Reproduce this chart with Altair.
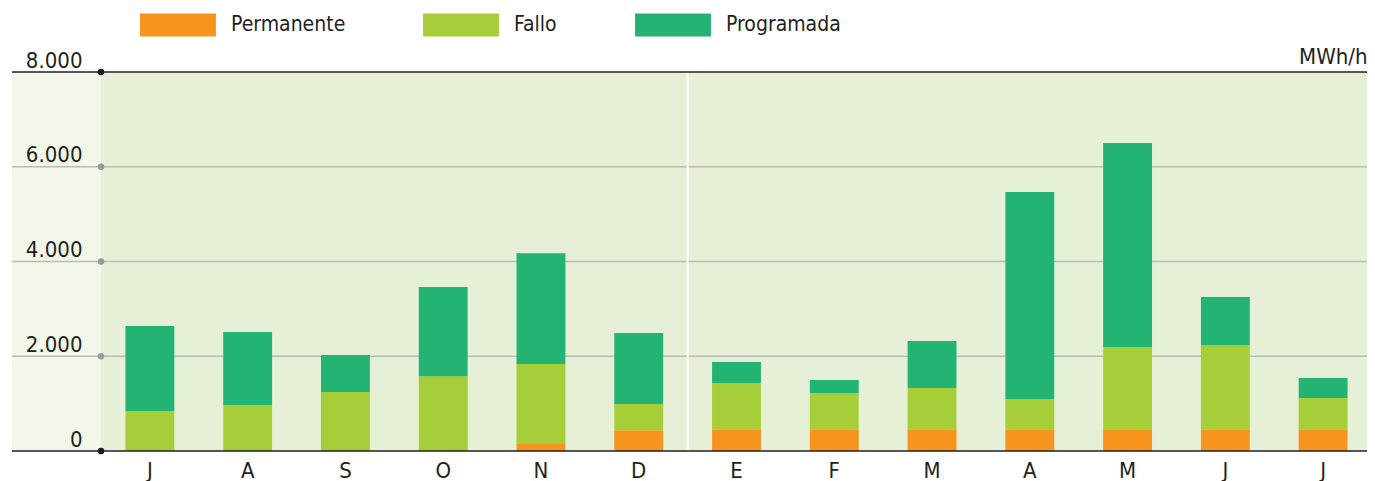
import altair as alt
import pandas as pd

# ---- data ----
keys = ["Jul-13", "Ago-13", "Sep-13", "Oct-13", "Nov-13", "Dic-13",
        "Ene-14", "Feb-14", "Mar-14", "Abr-14", "May-14", "Jun-14", "Jul-14"]
series = ["Permanente", "Fallo", "Programada"]
permanente = [0, 0, 0, 0, 150, 440, 460, 460, 460, 460, 460, 460, 460]
fallo = [845, 970, 1245, 1580, 1685, 550, 975, 765, 870, 640, 1735, 1775, 660]
programada = [1795, 1540, 780, 1880, 2340, 1500, 445, 275, 990, 4365, 4305, 1015, 420]
colors = ["#f7941d", "#a6ce39", "#23b473"]
y_ticks = [0, 2000, 4000, 6000, 8000]
grid_values = [2000, 4000, 6000]
frame_values = [0, 8000]
year_start = ["Ene-14"]

rows = []
for i, k in enumerate(keys):
    for j, (s, vals) in enumerate(zip(series, [permanente, fallo, programada])):
        rows.append({"mes": k, "serie": s, "orden": j, "valor": vals[i]})
df = pd.DataFrame(rows)

FONT = "Liberation Sans Narrow, Arial Narrow, DejaVu Sans Condensed, sans-serif"
TXT = "#231f20"
W, H = 1266, 379          # plot area (page is 1375 wide incl. 8px margins)
XR = 1271                 # band range so bars sit where the reference has them
LEFT = 89
STEP = XR / 13.0

xscale = alt.Scale(domain=keys, range=[0, XR], paddingInner=0.5, paddingOuter=0.25)
yscale = alt.Scale(domain=[0, 8000], nice=False)

XAX = alt.Axis(labelExpr="substring(datum.label, 0, 1)", labelAngle=0,
               ticks=False, domain=False, grid=False, labelPadding=9,
               labelFontSize=22, labelFont=FONT, labelColor=TXT)
YAX = alt.Axis(values=y_ticks, grid=False, ticks=False, domain=False, zindex=2,
               labelExpr="replace(format(datum.value, ','), ',', '.')",
               labelAlign="right", labelBaseline="alphabetic",
               labelPadding=19, labelOffset=-5, labelFontSize=22,
               labelFont=FONT, labelColor=TXT, labelFlush=False,
               labelOverlap=False,
               titleAngle=0, titleX=W, titleY=-9, titleAlign="right",
               titleBaseline="alphabetic", titleFontSize=22,
               titleFont=FONT, titleFontWeight="normal", titleColor=TXT)
YT = "MWh/h"

band = alt.Chart(pd.DataFrame({"a": [0]})).mark_rect(color="#f2f7e9").encode(
    x=alt.value(-LEFT), x2=alt.value(0),
    y=alt.Y(datum=8000, type="quantitative", scale=yscale, axis=YAX, title=YT),
    y2=alt.Y2(datum=0),
)

grid = alt.Chart(pd.DataFrame({"v": grid_values})).mark_rule(
    color="#b9bcb3", strokeWidth=1.6
).encode(
    y=alt.Y("v:Q", scale=yscale, axis=YAX, title=YT),
    x=alt.value(-LEFT), x2=alt.value(W),
)

sep = alt.Chart(pd.DataFrame({"mes": year_start})).mark_rule(
    color="white", strokeWidth=2
).encode(
    x=alt.X("mes:N", scale=xscale, bandPosition=0, axis=XAX, title=None),
    xOffset=alt.value(-STEP * 0.25),
    y=alt.Y(datum=8000, type="quantitative", scale=yscale, axis=YAX, title=YT),
    y2=alt.Y2(datum=0),
)

bars = alt.Chart(df).mark_bar().encode(
    x=alt.X("mes:N", scale=xscale, title=None, axis=XAX),
    y=alt.Y("valor:Q", stack="zero", scale=yscale, title=YT, axis=YAX),
    color=alt.Color("serie:N", scale=alt.Scale(domain=series, range=colors),
                    legend=alt.Legend(title=None, orient="none", legendX=65.5,
                                      legendY=-58.5, direction="horizontal",
                                      symbolType="M-3.3,-1L3.3,-1L3.3,1L-3.3,1Z",
                                      symbolSize=529, symbolStrokeWidth=0,
                                      symbolOpacity=1, labelOffset=41.5,
                                      columnPadding=77, labelFont=FONT,
                                      labelFontSize=21, labelColor=TXT, padding=0)),
    order=alt.Order("orden:Q"),
)

frame = alt.Chart(pd.DataFrame({"v": frame_values})).mark_rule(
    color=TXT, strokeWidth=1.3
).encode(
    y=alt.Y("v:Q", scale=yscale, axis=YAX, title=YT),
    x=alt.value(-LEFT), x2=alt.value(W),
)

dots = alt.Chart(pd.DataFrame({"v": y_ticks})).mark_circle(size=42, opacity=1).encode(
    y=alt.Y("v:Q", scale=yscale, axis=YAX, title=YT),
    x=alt.value(0),
    color=alt.condition("datum.v == 0 || datum.v == 8000",
                        alt.value("#1a1a1a"), alt.value("#9b9b9b")),
)

chart = alt.layer(band, grid, sep, bars, frame, dots).properties(
    width=W, height=H,
    autosize=alt.AutoSizeParams(type="none"),
    padding={"left": 93, "top": 64, "right": 0, "bottom": 30},
).configure_view(stroke=None, fill="#e6f0d6")

chart.save("out.html", embed_options={"renderer": "svg", "actions": False})
